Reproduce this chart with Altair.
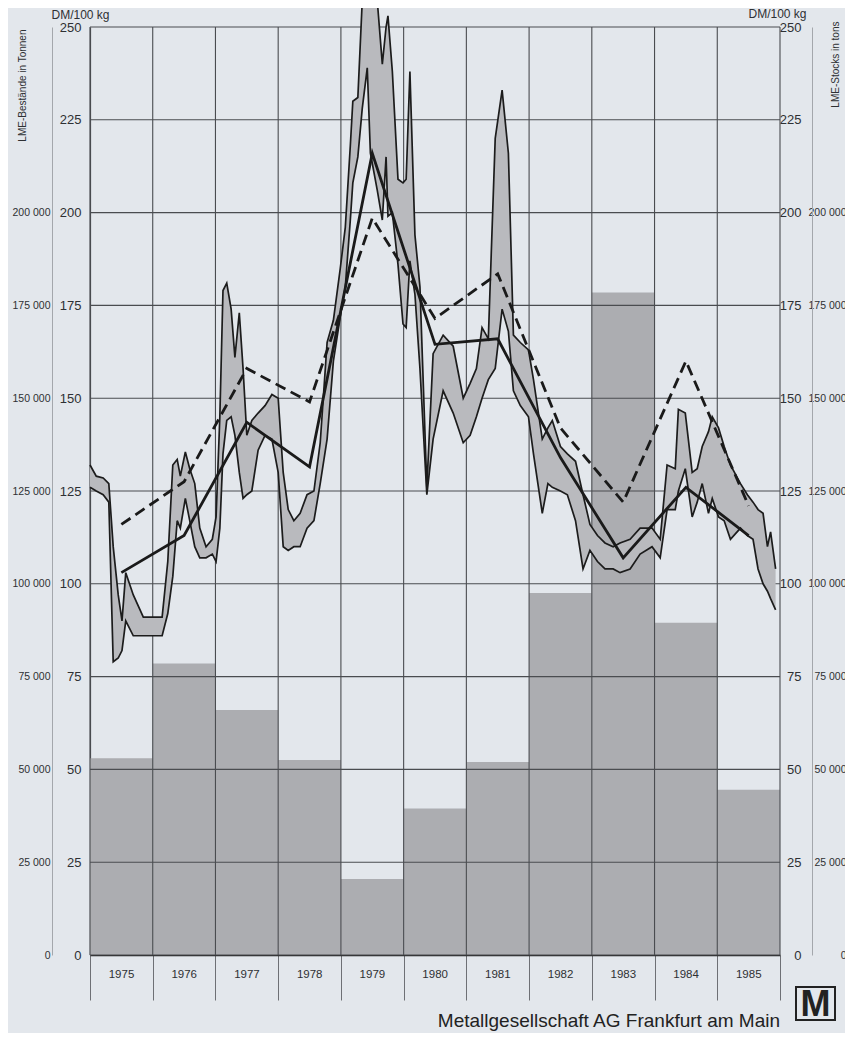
import altair as alt
import pandas as pd

# ---------------- data ----------------
years = [1975, 1976, 1977, 1978, 1979, 1980, 1981, 1982, 1983, 1984, 1985]
# LME stocks (tonnes), year-end
stocks = [53000, 78500, 66000, 52500, 20500, 39500, 52000, 97500, 178500, 89500, 44500]
# annual averages (DM/100 kg)
avg_solid = [103, 113, 143.5, 131.5, 216, 164.5, 166, 134, 107, 126, 113]
avg_dashed = [116, 127.5, 158, 149, 198.5, 171.5, 183.5, 142, 122, 160, 121]

# monthly price range (high / low), DM/100 kg
band_t = [1975.00, 1975.10, 1975.21, 1975.30, 1975.37, 1975.45, 1975.51, 1975.57, 1975.69, 1975.85,
          1976.00, 1976.15, 1976.24, 1976.32, 1976.39, 1976.44, 1976.52, 1976.59, 1976.67, 1976.75,
          1976.85, 1976.95, 1977.01, 1977.07, 1977.12, 1977.18, 1977.25, 1977.31, 1977.38, 1977.44,
          1977.50, 1977.58, 1977.68, 1977.79, 1977.90, 1978.00, 1978.08, 1978.16, 1978.25, 1978.35,
          1978.46, 1978.57, 1978.67, 1978.78, 1978.88, 1978.99, 1979.07, 1979.15, 1979.19, 1979.27,
          1979.34, 1979.42, 1979.47, 1979.58, 1979.66, 1979.72, 1979.75, 1979.82, 1979.91, 1979.99,
          1980.04, 1980.10, 1980.18, 1980.26, 1980.37, 1980.47, 1980.63, 1980.79, 1980.95, 1981.06,
          1981.16, 1981.25, 1981.35, 1981.46, 1981.57, 1981.67, 1981.75, 1981.86, 1981.99, 1982.07,
          1982.21, 1982.30, 1982.37, 1982.50, 1982.61, 1982.74, 1982.86, 1982.97, 1983.09, 1983.21,
          1983.34, 1983.45, 1983.61, 1983.77, 1983.96, 1984.09, 1984.20, 1984.33, 1984.38, 1984.49,
          1984.60, 1984.68, 1984.76, 1984.86, 1984.92, 1985.02, 1985.11, 1985.21, 1985.37, 1985.48,
          1985.57, 1985.65, 1985.73, 1985.80, 1985.85, 1985.93]
band_hi = [132, 129, 128.5, 127, 110, 97, 90, 103, 97, 91,
           91, 91, 106, 132, 133.5, 129, 135.5, 131, 127, 115,
           110, 112, 118, 145, 179, 181, 174, 161, 173, 158,
           140, 144, 146, 148, 151, 150, 130, 120, 117, 119,
           124, 125, 138, 165, 171, 185, 196, 218, 230, 231,
           257, 258, 258, 257, 240, 250, 253, 238, 209, 208,
           209, 238, 194, 180, 126, 162, 167, 164, 150, 154,
           158, 169, 166, 220, 233, 216, 167, 165, 163, 155,
           139, 142, 144, 137, 135, 133, 124, 116, 113, 111,
           110, 111, 112, 115, 115, 112, 132, 131, 147, 146,
           130, 131, 137, 141, 145, 142, 137, 132, 127, 124,
           122, 120, 119, 110, 114, 104]
band_lo = [126, 125, 124, 122, 79, 80, 82, 90, 86, 86,
           86, 86, 92, 102, 117, 115, 123, 117, 110, 107,
           107, 108, 106, 115, 135, 144, 145, 140, 130, 123,
           124, 125, 136, 140, 139, 130, 110, 109, 110, 110,
           115, 117, 127, 139, 160, 172, 180, 198, 208, 215,
           228, 239, 216, 206, 198, 215, 199, 200, 186, 170,
           169, 187, 178, 158, 124, 139, 152, 146, 138, 140,
           145, 150, 155, 158, 174, 168, 152, 148, 145, 135,
           119, 127, 126, 125, 124, 117, 104, 109, 106, 104,
           104, 103, 104, 108, 110, 107, 120, 120, 125, 131,
           118, 122, 127, 119, 123, 118, 117, 112, 115, 113,
           112, 104, 100, 98, 96, 93]

x_ticks = list(range(1975, 1987))
dm_ticks = list(range(0, 251, 25))
ton_ticks = list(range(0, 200001, 25000))

# ---------------- styling ----------------
BG = "#e3e7ec"
GRID = "#4a4c50"
LIGHT = "#a4a7ac"
TXT = "#2e3033"
BAR = "#acadb1"
BAND = "#b9babe"
NARROW = "Liberation Sans Narrow, Liberation Sans, Arial"
SANS = "Liberation Sans, Arial"

bars_df = pd.DataFrame({"year": years, "stock": stocks})
avg_df = pd.DataFrame({"year": years, "solid": avg_solid, "dashed": avg_dashed})
band_df = pd.DataFrame({"t": band_t, "hi": band_hi, "lo": band_lo})
hgrid_df = pd.DataFrame({"v": dm_ticks})
vgrid_df = pd.DataFrame({"v": x_ticks})

xscale = alt.Scale(domain=[1975, 1986], nice=False, zero=False)
DM = alt.Scale(domain=[0, 250], nice=False, zero=True)
TON = alt.Scale(domain=[0, 250000], nice=False, zero=True)

x_axis = alt.Axis(values=x_ticks, grid=False,
                  ticks=True, tickSize=45, tickColor="#6e7075", tickWidth=1,
                  domain=True, domainColor="#222", domainWidth=1.5,
                  labelExpr="datum.value < 1986 ? '' + datum.value : ''",
                  labelOffset=31, labelPadding=-32, labelFlush=False, labelOverlap=False,
                  labelFont=NARROW, labelFontSize=11.5, labelBaseline="top", labelColor=TXT,
                  title=None)

ton_fmt = "replace(format(datum.value, ','), ',', ' ')"

ton_left = alt.Axis(orient="left", offset=38, values=ton_ticks, labelExpr=ton_fmt,
                    grid=False, ticks=False, domain=True, domainColor=LIGHT, domainWidth=1,
                    labelPadding=2, labelFont=NARROW, labelFontSize=10.5, labelColor=TXT,
                    labelFlush=False, labelOverlap=False,
                    title="LME-Bestände in Tonnen", titleAngle=270, titleX=-30, titleY=2,
                    titleAlign="right", titleBaseline="middle", titleFont=NARROW,
                    titleFontSize=10, titleFontWeight="normal", titleColor=TXT)

ton_right = alt.Axis(orient="right", offset=32, values=ton_ticks, labelExpr=ton_fmt,
                     grid=False, ticks=False, domain=True, domainColor=LIGHT, domainWidth=1,
                     labelAlign="right", labelPadding=34, labelFont=NARROW, labelFontSize=10.5,
                     labelColor=TXT, labelFlush=False, labelOverlap=False,
                     title="LME-Stocks in tons", titleAngle=270, titleX=23, titleY=-6,
                     titleAlign="right", titleBaseline="middle", titleFont=NARROW,
                     titleFontSize=10, titleFontWeight="normal", titleColor=TXT)

dm_left = alt.Axis(orient="left", values=dm_ticks, grid=False,
                   ticks=False, domain=True, domainColor=GRID, domainWidth=1.2,
                   labelPadding=9, labelFont=SANS, labelFontSize=13, labelColor=TXT,
                   labelFlush=False, labelOverlap=False,
                   title="DM/100 kg", titleAngle=0, titleX=-10, titleY=-9,
                   titleAlign="center", titleBaseline="alphabetic", titleFont=SANS,
                   titleFontSize=12, titleFontWeight="normal", titleColor=TXT)

dm_right = alt.Axis(orient="right", values=dm_ticks, grid=False, ticks=False, domain=False,
                    labelAlign="right", labelPadding=21, labelFont=SANS, labelFontSize=13,
                    labelColor=TXT, labelFlush=False, labelOverlap=False,
                    title="DM/100 kg", titleAngle=0, titleX=-3, titleY=-10,
                    titleAlign="center", titleBaseline="alphabetic", titleFont=SANS,
                    titleFontSize=12, titleFontWeight="normal", titleColor=TXT)

X_T = alt.X("t:Q", scale=xscale, axis=x_axis)
X_MID = alt.X("mid:Q", scale=xscale, axis=x_axis)

bars = alt.Chart(bars_df).transform_calculate(
    start="datum.year", end="datum.year + 1"
).mark_bar(color=BAR).encode(
    x=alt.X("start:Q", scale=xscale, axis=x_axis),
    x2="end:Q",
    y=alt.Y("stock:Q", scale=TON, axis=ton_left),
    y2=alt.datum(0),
)

bars_axis_r = alt.Chart(bars_df).transform_calculate(
    start="datum.year", end="datum.year + 1"
).mark_bar(opacity=0).encode(
    x=alt.X("start:Q", scale=xscale, axis=x_axis),
    x2="end:Q",
    y=alt.Y("stock:Q", scale=TON, axis=ton_right),
    y2=alt.datum(0),
)

# grid drawn above the stock bars but beneath the price band
hgrid = alt.Chart(hgrid_df).mark_rule(color=GRID, strokeWidth=1.1).encode(
    y=alt.Y("v:Q", scale=DM, axis=None)
)
vgrid = alt.Chart(vgrid_df).mark_rule(color=GRID, strokeWidth=1.1).encode(
    x=alt.X("v:Q", scale=xscale, axis=x_axis)
)

band = alt.Chart(band_df).mark_area(color=BAND, opacity=1).encode(
    x=X_T,
    y=alt.Y("hi:Q", scale=DM, axis=dm_left),
    y2="lo:Q",
)

hi_line = alt.Chart(band_df).mark_line(color="#1c1c1c", strokeWidth=1.7).encode(
    x=X_T,
    y=alt.Y("hi:Q", scale=DM, axis=None),
)

lo_line = alt.Chart(band_df).mark_line(color="#1c1c1c", strokeWidth=1.7).encode(
    x=X_T,
    y=alt.Y("lo:Q", scale=DM, axis=None),
)

solid = alt.Chart(avg_df).transform_calculate(mid="datum.year + 0.5").mark_line(
    color="#1a1a1a", strokeWidth=2.8
).encode(
    x=X_MID,
    y=alt.Y("solid:Q", scale=DM, axis=dm_right),
)

dashed = alt.Chart(avg_df).transform_calculate(mid="datum.year + 0.5").mark_line(
    color="#1a1a1a", strokeWidth=2.8, strokeDash=[11, 6]
).encode(
    x=X_MID,
    y=alt.Y("dashed:Q", scale=DM, axis=None),
)

logo_df = pd.DataFrame({"logo": ["M"]})
logo_box = alt.Chart(logo_df).mark_rect(fill=BG, stroke="#222", strokeWidth=2).encode(
    x=alt.value(706), x2=alt.value(745), y=alt.value(960), y2=alt.value(993)
)
logo_txt = alt.Chart(logo_df).mark_text(
    font=SANS, fontSize=36, fontWeight="bold", color="#222", baseline="middle", align="center"
).encode(text="logo:N", x=alt.value(725.5), y=alt.value(978))

chart = alt.layer(
    bars, bars_axis_r, hgrid, vgrid, band, hi_line, lo_line, solid, dashed, logo_box, logo_txt
).resolve_scale(
    y="independent"
).properties(
    width=690,
    height=928,
    padding={"left": 82, "top": 19, "right": 65, "bottom": 78},
    autosize=alt.AutoSizeParams(type="none"),
    title=alt.TitleParams(
        "Metallgesellschaft AG Frankfurt am Main", orient="bottom", anchor="end",
        frame="group", offset=-11, fontSize=19, font=SANS, fontWeight="normal", color="#222"
    ),
).configure(
    background=BG
).configure_view(
    stroke=None
)

chart.save("out.html", embed_options={"renderer": "svg", "actions": False})
